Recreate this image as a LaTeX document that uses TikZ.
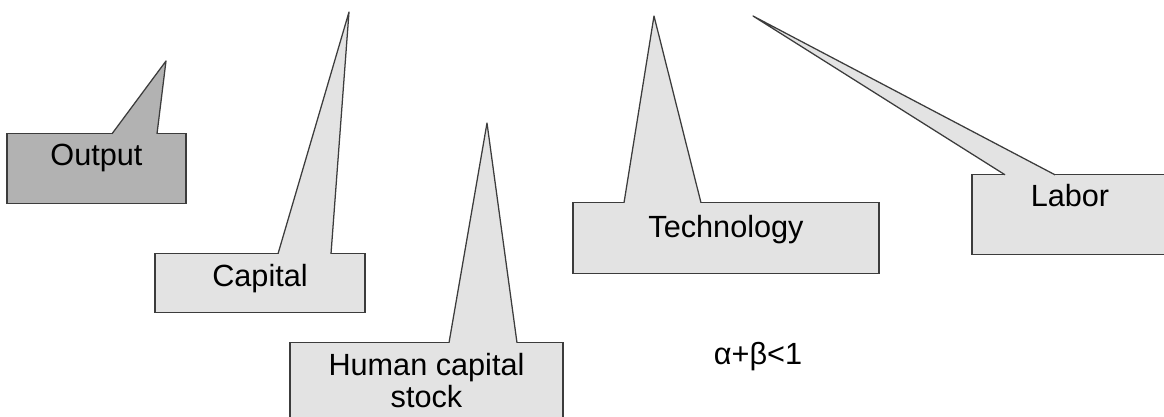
\documentclass[tikz,border=0pt]{standalone}
\usepackage{fontspec}
\setmainfont{Liberation Sans}
\usetikzlibrary{positioning}
\definecolor{colDark}{HTML}{B2B2B2}
\definecolor{colLight}{HTML}{E3E3E3}
\definecolor{colLine}{HTML}{3C3C3C}

\begin{document}
\begin{tikzpicture}[
  x=0.025cm, y=-0.025cm,
  font=\fontsize{21.8pt}{22.8pt}\selectfont,
  every node/.style={align=center},
  callbox/.style={
    draw=colLine, fill=#1, line width=0.9pt,
    anchor=north, inner sep=0pt
  },
  pointer/.style={draw=colLine, fill=#1, line width=0.9pt, line join=round},
]

\clip (0,0) rectangle (1164,416);

%% ============================================================
%% Boxes
%% ============================================================
\node[callbox=colDark, minimum width=4.475cm,
      text height=0.8cm, text depth=0.95cm]
  (output) at (96.5,133) {Output};
\node[callbox=colLight, minimum width=5.25cm,
      text height=0.8125cm, text depth=0.6625cm]
  (capital) at (260,253) {Capital};
\node[callbox=colLight, minimum width=6.825cm,
      text height=1.625cm, text depth=0.875cm]
  (human) at (426.5,342) {Human capital\\stock};
\node[callbox=colLight, minimum width=7.65cm,
      text height=0.8625cm, text depth=0.9125cm]
  (tech) at (726,202) {Technology};
\node[callbox=colLight, minimum width=4.9cm,
      text height=0.7875cm, text depth=1.2125cm]
  (labor) at (1070,174) {Labor};

\node (cond) at (758,357) {α+β<1};

%% ============================================================
%% Pointer tips
%% ============================================================
\coordinate (output L) at (112,133.8);   \coordinate (output R) at (157,133.8);
\coordinate (output tip) at (166,61);
\coordinate (capital L) at (278,253.8);  \coordinate (capital R) at (331,253.8);
\coordinate (capital tip) at (349,12);
\coordinate (human L) at (449,342.8);    \coordinate (human R) at (517,342.8);
\coordinate (human tip) at (487,123);
\coordinate (tech L) at (624,202.8);     \coordinate (tech R) at (701,202.8);
\coordinate (tech tip) at (654,16);
\coordinate (labor L) at (1005,174.8);   \coordinate (labor R) at (1055,174.8);
\coordinate (labor tip) at (753,16);

\foreach \n/\c in {output/colDark, capital/colLight, human/colLight,
                   tech/colLight, labor/colLight}
  \filldraw[pointer=\c] (\n\space L) -- (\n\space tip) -- (\n\space R);

\end{tikzpicture}
\end{document}
